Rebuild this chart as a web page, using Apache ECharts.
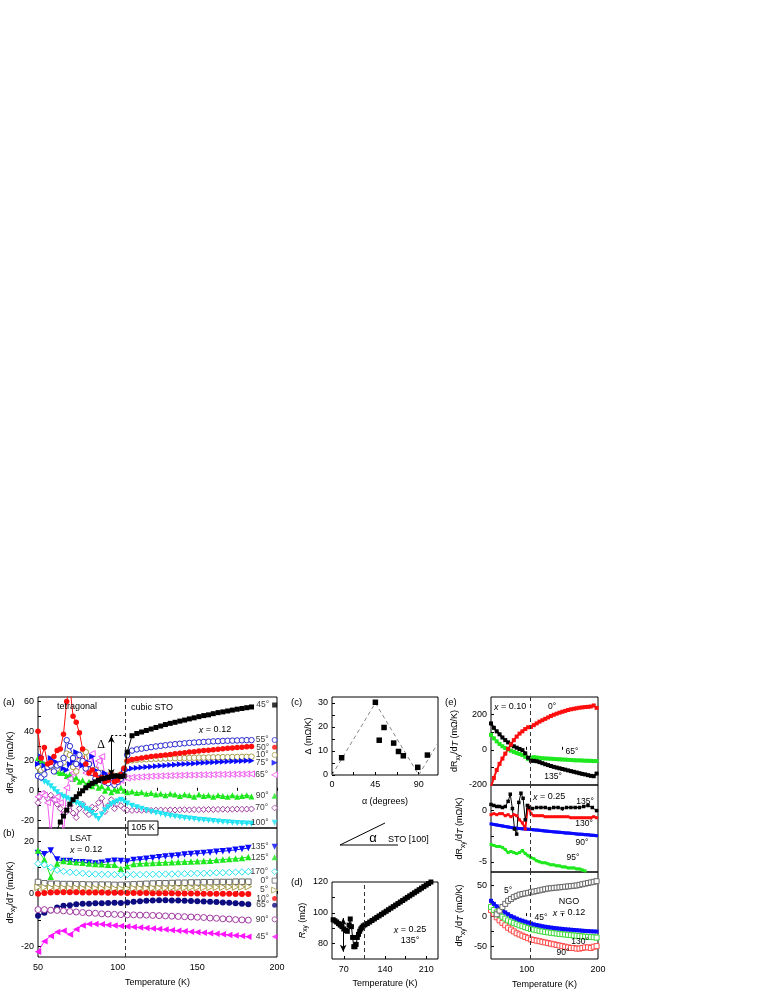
<!DOCTYPE html>
<html>
<head>
<meta charset="utf-8">
<script src="https://cdn.jsdelivr.net/npm/echarts@6/dist/echarts.min.js"></script>
<style>
html, body { margin: 0; padding: 0; background: #fff; }
#chart { width: 765px; height: 990px; }
</style>
</head>
<body>
<div id="chart"></div>
<script>
// ---------- panel (a): STO, x = 0.12 ----------
var tA = [50,52,54,56,58,60,62,64,66,68,70,72,74,76,78,80,82,84,86,88,90,92,94,96,98,100,102,104,
          106,109,112,115,118,121,124,127,130,133,136,139,142,145,148,151,154,157,160,163,166,169,172,175,178,181,184];
var a45 = [-45,-42,-40,-38,-35,-31,-26,-21,-17,-13,-9,-6,-4,-2,0,2,3.5,5,6,7,8,8.5,9,9.5,10,10,9.5,10,
           26,37,38.5,39.5,40.5,41.5,42.5,43.5,44.5,45.3,46,46.8,47.5,48.3,49,49.8,50.5,51,51.8,52.5,53,53.6,54.2,54.8,55.3,55.8,56.3];
var a55 = [10,9,11,16,17,13,17,18,22,34,30,22,18,24,20,15,18,12,8,12,7,6,5,9,4,6,8,14,
           24,27,27.8,28.3,28.8,29.3,29.8,30.2,30.6,31,31.3,31.6,31.9,32.2,32.4,32.6,32.8,33,33.2,33.3,33.5,33.6,33.7,33.8,33.9,34,34];
var a50 = [40,22,29,18,19,23,27,28,38,60,70,50,46,39,28,18,12,14,11,8,9,6,7,11,6,7,11,15,
           20,21,21.5,22,22.5,23,23.3,23.7,24,24.3,24.8,25.2,25.5,26,26.3,26.7,27,27.3,27.6,27.9,28.2,28.5,28.7,29,29.2,29.5,29.7];
var a10 = [16,14,15,17,16,14,15,17,19,25,24,16,13,20,25,26,18,12,14,10,12,9,8,12,9,10,11,15,
           20,20.5,20.8,21,21.2,21.4,21.5,21.6,21.7,21.8,21.9,22,22,22.1,22.2,22.3,22.3,22.4,22.5,22.5,22.6,22.6,22.7,22.7,22.8,22.8,22.9];
var a75 = [18,23,17,15,22,20,19,17,15,14,18,20,26,18,17,16,19,23,14,11,9,12,10,8,9,8,9,13,
           14,15,15.3,15.6,15.9,16.2,16.5,16.8,17,17.3,17.5,17.8,18,18.2,18.4,18.6,18.8,19,19.2,19.3,19.5,19.6,19.8,19.9,20,20.1,20.2];
var a65 = [-4,-2,-3,-8,-30,-6,-4,-8,-30,2,8,12,16,22,18,12,20,25,14,20,23,10,7,5,8,6,7,9,
           8.5,9,9.2,9.4,9.6,9.8,9.9,10,10.1,10.2,10.3,10.4,10.5,10.5,10.6,10.7,10.8,10.8,10.9,11,11,11.1,11.1,11.2,11.2,11.3,11.3];
var a90 = [22,20,18,16,18,15,13,12,12,10,11,8,9,6,7,4,6,3,5,2,3,0,2,-1,1,0,2,0,
           -1,-0.5,-1.5,-1,-2,-1.5,-2.5,-2,-3,-2,-2.5,-3.5,-2.5,-3,-4,-2.5,-3.5,-3,-4,-3,-3.5,-4,-3,-4,-3.5,-3,-3.8];
var a70 = [-8,-3,-2,-5,-3,-6,-9,-12,-16,-14,-10,-15,-18,-12,-9,-14,-16,-11,-12,-8,-5,-14,-10,-6,-12,-9,-10,-12,
           -13,-13.2,-13,-13.1,-13,-13.2,-13,-12.9,-13,-12.8,-12.9,-12.8,-12.7,-12.8,-12.6,-12.7,-12.6,-12.5,-12.6,-12.5,-12.4,-12.5,-12.4,-12.3,-12.4,-12.3,-12.2];
var a100 = [10,8,6,5,3,1,-1,-3,-4,-5,-6,-7,-8,-9,-10,-12,-13,-15,-17,-19,-16,-13,-11,-9,-8,-7,-6,-7,
            -8.5,-10,-11,-12,-13,-14,-14.8,-15.5,-16.2,-16.8,-17.3,-17.8,-18.2,-18.6,-19,-19.4,-19.7,-20,-20.3,-20.6,-20.9,-21.1,-21.4,-21.6,-21.8,-22,-22.2];
var tagX = 198.5;
var tagNamesA = ['45°','55°','50°','10°','75°','65°','90°','70°','100°'];
var tagYA = [57.6,34.1,29.2,24.1,18.9,10.7,-3.4,-11.5,-21.4];

// ---------- panel (b): LSAT, x = 0.12 ----------
var tB = [50,54,58,62,66,70,74,78,82,86,90,94,98,102,106,110,114,118,122,126,130,134,138,142,146,150,154,158,162,166,170,174,178,182];
var b135 = [15.5,15,16.5,13,12.5,12.5,12,12,11.8,11.5,11.8,12.3,12.6,12.5,12.3,12.8,13,13.3,13.6,13.9,14.2,14.4,14.6,14.9,15.1,15.3,15.5,15.7,16,16.2,16.4,16.7,17,17.4];
var b125 = [16.5,13,6.5,11.5,12.5,12.2,12,11.8,11.5,11.3,11.2,11,11,9.5,10.5,11.3,11.5,11.6,11.7,11.8,11.9,12,12.1,12.2,12.3,12.4,12.5,12.6,12.8,13,13.2,13.4,13.6,14];
var b170 = [11.5,11,10,9,8.5,8.2,8,7.8,7.6,7.5,7.4,7.4,7.3,7.3,7.3,7.3,7.3,7.4,7.4,7.4,7.5,7.5,7.6,7.6,7.7,7.8,7.8,7.9,8,8,8.1,8.2,8.3,8.4];
var b0 = [4.5,4,3.8,3.8,3.7,3.7,3.6,3.6,3.5,3.5,3.5,3.5,3.4,3.4,3.5,3.6,3.7,3.8,3.9,4,4,4.1,4.2,4.2,4.3,4.3,4.4,4.4,4.5,4.5,4.5,4.6,4.6,4.6];
var b5 = [2.5,2.4,2.3,2.3,2.2,2.2,2.2,2.1,2.1,2.1,2.1,2,2,2,2,2.1,2.1,2.1,2.2,2.2,2.2,2.3,2.3,2.3,2.4,2.4,2.4,2.5,2.5,2.5,2.6,2.6,2.6,2.7];
var b10 = [0,0.3,0.5,0.6,0.6,0.6,0.6,0.5,0.5,0.5,0.5,0.4,0.4,0.4,0.3,0.3,0.3,0.3,0.2,0.2,0.2,0.2,0.1,0.1,0.1,0.1,0,0,0,0,0,-0.1,-0.1,-0.1];
var b65 = [-8.3,-7.2,-6.3,-5.2,-4.5,-4.3,-4,-3.8,-3.8,-3.6,-3.6,-3.5,-3.4,-3.5,-3.3,-3,-2.8,-2.6,-2.5,-2.4,-2.4,-2.5,-2.5,-2.6,-2.7,-2.8,-2.9,-3,-3.1,-3.3,-3.4,-3.6,-3.8,-4];
var b90 = [-6,-6,-6.2,-6.3,-6.5,-6.7,-6.9,-7.1,-7.3,-7.4,-7.6,-7.7,-7.8,-7.9,-8,-8,-8.1,-8.1,-8.2,-8.3,-8.4,-8.5,-8.6,-8.7,-8.8,-8.9,-9,-9.2,-9.3,-9.5,-9.6,-9.8,-9.9,-10];
var b45 = [-22,-18,-16,-14.5,-14,-15.5,-13.5,-12,-11.5,-11.5,-11.6,-11.8,-12,-12.2,-12.4,-12.6,-12.8,-13,-13.2,-13.4,-13.6,-13.8,-14,-14.2,-14.4,-14.6,-14.8,-15,-15.2,-15.4,-15.6,-15.8,-16,-16.3];
var tagNamesB = ['135°','125°','170°','0°','5°','10°','65°','90°','45°'];
var tagYB = [17.9,13.9,8.4,5,1.4,-1.8,-4.3,-9.7,-16.3];

// ---------- panel (c): step height vs angle ----------
var cAlpha = [10,45,49,54,64,69,74,89,99];
var cDelta = [7.2,30.3,14.5,19.8,13.3,9.8,8,3.2,8.3];
var cGuideA = [0,45,90,110];
var cGuideD = [0,30,0,13.3];

// ---------- panel (d): Rxy, x = 0.25, 135° ----------
var dT = [52,55,58,61,64,67,70,73,76,79,81,83,85,87,89,91,93,95,97,99,101,103,
          106,110,114,118,122,126,130,134,138,142,146,150,154,158,162,166,170,174,178,182,186,190,194,198,202,206,210,214,218,222];
var dR = [95.5,94.8,94,93,92,91,89.5,88.5,88,92,96,91,84,78,78,79.5,84,86,88,89.5,90.5,91.5,
          92.2,93,94,95,96,97,98,99,100,101,102,103,104,105,106,107,108,109,110,111,112,113,114,115,116,117,118,119,120,121];

// ---------- panel (e) ----------
var tE = [50,54,58,62,66,70,74,78,82,86,90,94,98,102,106,110,114,118,122,126,130,134,138,142,146,150,154,158,162,166,170,174,178,182,186,190,194,198];
// x = 0.10
var e1Red = [-210,-160,-115,-80,-50,-22,5,30,55,75,92,105,118,128,130,140,150,160,168,176,184,192,199,205,211,216,221,226,230,233,236,239,241,243,244,246,252,238];
var e1Green = [85,65,48,33,20,10,2,-5,-12,-18,-24,-30,-40,-52,-45,-42,-44,-46,-48,-49,-50,-51,-52,-53,-54,-55,-56,-57,-58,-59,-60,-60,-61,-62,-62,-63,-64,-64];
var e1Black = [150,125,105,88,70,55,42,30,20,12,5,-2,-20,-45,-62,-63,-65,-70,-76,-82,-87,-92,-97,-101,-105,-109,-113,-117,-121,-125,-129,-133,-137,-140,-144,-148,-150,-135];
// x = 0.25
var tEb = [50,54,58,62,66,70,74,77,80,83,86,89,92,95,98,101,104,108,114,120,126,132,138,144,150,156,162,168,174,180,186,192,198];
var e2Black = [0.6,0.5,0.4,0.4,0.3,0.4,0.9,1.6,0.2,-1.8,-2.3,0.8,1.7,1.2,-0.9,0.5,0.3,0.2,0.3,0.3,0.3,0.2,0.3,0.3,0.2,0.3,0.3,0.3,0.3,0.4,0.5,0.3,0.0];
var e2Red = [-0.4,-0.3,-0.4,-0.3,-0.3,-0.5,-0.4,-0.6,-0.4,-0.5,-0.9,-1.2,-1.8,0.5,-0.3,-0.5,-0.5,-0.5,-0.5,-0.6,-0.6,-0.6,-0.6,-0.6,-0.6,-0.6,-0.6,-0.6,-0.7,-0.7,-0.7,-0.7,-0.7,-0.7,-0.7,-0.7,-0.6,-0.7];
var e2Blue = [-1.3,-1.35,-1.4,-1.45,-1.5,-1.55,-1.6,-1.65,-1.7,-1.72,-1.75,-1.78,-1.8,-1.82,-1.85,-1.88,-1.9,-1.93,-1.96,-1.99,-2.02,-2.05,-2.08,-2.1,-2.12,-2.15,-2.18,-2.2,-2.22,-2.25,-2.28,-2.3,-2.32,-2.35,-2.37,-2.4,-2.42,-2.45];
var e2Green = [-3.3,-3.4,-3.5,-3.5,-3.6,-3.8,-4.1,-4.0,-4.1,-4.2,-4.1,-3.9,-4.2,-4.4,-4.6,-4.7,-4.9,-5.0,-5.1,-5.1,-5.2,-5.3,-5.3,-5.4,-5.4,-5.5,-5.5,-5.6,-5.6,-5.6,-5.7,-5.7,-5.8,-5.9,null,null,null,null];
// NGO, x = 0.12
var e3Gray = [null,null,3,9,15,20,25,28,31,33,35,36,37,38,39,40,41,42,43,44,45,45.5,46,46.5,47,47.5,48,48.5,49,49.5,50,51,52,53,54,55,56,57];
var e3Blue = [25,20,16,12,9,6,3,0,-2,-4,-6,-7.5,-9,-10.5,-12,-13.5,-14.5,-15.5,-16.5,-17.3,-18,-18.7,-19.3,-19.9,-20.4,-20.9,-21.4,-21.8,-22.2,-22.6,-23,-23.4,-23.8,-24.2,-24.5,-24.8,-25,-25.2];
var e3Green = [15,10,6,2,-1,-4,-7,-9,-11,-13,-15,-16.5,-18,-19.5,-21,-22,-23,-24,-25,-25.8,-26.5,-27.2,-27.8,-28.4,-29,-29.5,-30,-30.5,-31,-31.5,-32,-32.5,-33,-33.5,-34,-34,-34.5,-35];
var e3Red = [10,4,-2,-7,-11,-15,-19,-22,-25,-28,-30,-32,-34,-36,-38,-39,-40,-41,-42,-43,-44,-45,-46,-47,-48,-49,-50,-51,-52,-52,-53,-53,-52,-51,-51,-52,-50,-49];

var TC = 105;   // cubic-tetragonal transition

var FONT = '"Liberation Sans", Arial, Helvetica, sans-serif';
var chart = echarts.init(document.getElementById('chart'));

function pts(xs, ys) {
  var out = [];
  for (var i = 0; i < xs.length; i++) {
    if (ys[i] !== null && ys[i] !== undefined) out.push([xs[i], ys[i]]);
  }
  return out;
}

// one data series (line + markers)
function ln(gi, xs, ys, c, sym, o) {
  o = o || {};
  return {
    type: 'line', xAxisIndex: gi, yAxisIndex: gi, data: pts(xs, ys),
    symbol: sym, symbolSize: o.size || 5, symbolRotate: o.rot || 0,
    showSymbol: sym !== 'none', showAllSymbol: true,
    lineStyle: { color: c, width: o.lw == null ? 1 : o.lw, type: o.dash || 'solid' },
    itemStyle: { color: o.open ? '#fff' : c, borderColor: c, borderWidth: o.open ? 1 : 0 },
    z: o.z || 3, silent: true, animation: false, clip: true
  };
}

// marker + angle label at the right side of panels (a), (b)
function tag(gi, y, text, c, sym, o) {
  o = o || {};
  return {
    type: 'scatter', xAxisIndex: gi, yAxisIndex: gi, data: [[tagX, y]],
    symbol: sym, symbolSize: o.size || 5, symbolRotate: o.rot || 0,
    itemStyle: { color: o.open ? '#fff' : c, borderColor: c, borderWidth: o.open ? 1 : 0 },
    label: { show: true, position: 'left', distance: 3, formatter: text, fontSize: 8.5, fontFamily: FONT, color: '#000' },
    z: 5, silent: true, animation: false
  };
}

function helper(gi, ml) {
  return { type: 'line', xAxisIndex: gi, yAxisIndex: gi, data: [], markLine: ml, silent: true, animation: false, z: 2 };
}
function vline() {
  return { silent: true, symbol: 'none', animation: false, label: { show: false },
           lineStyle: { type: [4, 3], color: '#333', width: 1 }, data: [{ xAxis: TC }] };
}
function arrow(x, y1, y2) {
  return { silent: true, symbol: ['arrow', 'arrow'], symbolSize: [5, 7], animation: false, label: { show: false },
           lineStyle: { type: 'solid', color: '#000', width: 1 }, data: [[{ coord: [x, y1] }, { coord: [x, y2] }]] };
}

var nameStyle = {
  fontSize: 9, fontFamily: FONT, color: '#000',
  rich: {
    s: { fontSize: 6.5, fontFamily: FONT, padding: [7, 0, 0, 0] },
    i: { fontSize: 9, fontFamily: FONT, fontStyle: 'italic' }
  }
};
var yTitle = 'dR{s|xy}/d{i|T} (mΩ/K)';

function axis(gi, min, max, o) {
  return {
    type: 'value', gridIndex: gi, min: min, max: max,
    axisLine: { show: false }, splitLine: { show: false },
    axisTick: { show: true, inside: true, length: 3, customValues: o.ticks, lineStyle: { color: '#000', width: 1 } },
    axisLabel: { show: !!o.labels, customValues: o.labels || [], fontSize: 9, fontFamily: FONT, color: '#000', margin: o.margin || 4 },
    name: o.name || '', nameLocation: 'middle', nameGap: o.gap || 20, nameTextStyle: nameStyle
  };
}

var gridBox = { show: true, borderColor: '#000', borderWidth: 1, backgroundColor: 'transparent' };
var grids = [
  Object.assign({ left: 38,  top: 697, width: 239, height: 131 }, gridBox),  // a
  Object.assign({ left: 38,  top: 828, width: 239, height: 129 }, gridBox),  // b
  Object.assign({ left: 332, top: 697, width: 106, height: 78 }, gridBox),   // c
  Object.assign({ left: 332, top: 882, width: 106, height: 77 }, gridBox),   // d
  Object.assign({ left: 491, top: 697, width: 107, height: 88 }, gridBox),   // e top
  Object.assign({ left: 491, top: 785, width: 107, height: 87 }, gridBox),   // e middle
  Object.assign({ left: 491, top: 872, width: 107, height: 87 }, gridBox)    // e bottom
];

var tT = [50,75,100,125,150,175,200];
var xAxes = [
  axis(0, 50, 200, { ticks: tT }),
  axis(1, 50, 200, { ticks: tT, labels: [50,100,150,200], name: 'Temperature (K)', gap: 21, margin: 6 }),
  axis(2, 0, 110, { ticks: [0,22.5,45,67.5,90], labels: [0,45,90], name: 'α (degrees)', gap: 22, margin: 5 }),
  axis(3, 50, 230, { ticks: [70,105,140,175,210], labels: [70,140,210], name: 'Temperature (K)', gap: 20, margin: 6 }),
  axis(4, 50, 200, { ticks: [100,150] }),
  axis(5, 50, 200, { ticks: [100,150] }),
  axis(6, 50, 200, { ticks: [100,150], labels: [100,200], name: 'Temperature (K)', gap: 21, margin: 6 })
];
var yAxes = [
  axis(0, -25, 63, { ticks: [-20,-10,0,10,20,30,40,50,60], labels: [-20,0,20,40,60], name: yTitle, gap: 18 }),
  axis(1, -24, 25, { ticks: [-20,-10,0,10,20], labels: [-20,0,20], name: yTitle, gap: 18 }),
  axis(2, 0, 32.5, { ticks: [0,5,10,15,20,25,30], labels: [0,10,20,30], name: 'Δ (mΩ/K)', gap: 19 }),
  axis(3, 70, 120, { ticks: [80,90,100,110], labels: [80,100,120], name: '{i|R}{s|xy} (mΩ)', gap: 21 }),
  axis(4, -200, 300, { ticks: [-100,0,100,200], labels: [-200,0,200], name: yTitle, gap: 29 }),
  axis(5, -6, 2.5, { ticks: [-5,-2.5,0], labels: [-5,0], name: yTitle, gap: 24 }),
  axis(6, -70, 72, { ticks: [-50,-25,0,25,50], labels: [-50,0,50], name: yTitle, gap: 24 })
];

var C = {
  black: '#000000', blueO: '#2a2ad0', red: '#ff0d0d', olive: '#a89c48', blue: '#0a0aff',
  pink: '#f25cf2', green: '#1fe81f', purple: '#a03aa0', cyan: '#22e4f2',
  gray: '#666666', navy: '#0c0c80', magenta: '#ff14ff'
};

var series = [
  // (a)
  ln(0, tA, a70, C.purple, 'diamond', { open: true, size: 6 }),
  ln(0, tA, a100, C.cyan, 'triangle', { rot: 180, size: 6 }),
  ln(0, tA, a90, C.green, 'triangle', { size: 6 }),
  ln(0, tA, a65, C.pink, 'triangle', { rot: 90, open: true, size: 6 }),
  ln(0, tA, a10, C.olive, 'circle', { open: true, size: 5.5 }),
  ln(0, tA, a75, C.blue, 'triangle', { rot: -90, size: 6 }),
  ln(0, tA, a55, C.blueO, 'circle', { open: true, size: 5.5 }),
  ln(0, tA, a50, C.red, 'circle', { size: 5.5 }),
  ln(0, tA, a45, C.black, 'rect', { size: 5, z: 4 }),
  helper(0, vline()),
  helper(0, arrow(96, 10, 37)),
  helper(0, { silent: true, symbol: 'none', animation: false, label: { show: false },
              lineStyle: { type: [2, 2], color: '#000', width: 1 }, data: [[{ coord: [96, 37] }, { coord: [TC, 37] }]] }),
  tag(0, tagYA[0], tagNamesA[0], C.black, 'rect', { size: 5 }),
  tag(0, tagYA[1], tagNamesA[1], C.blueO, 'circle', { open: true }),
  tag(0, tagYA[2], tagNamesA[2], C.red, 'circle'),
  tag(0, tagYA[3], tagNamesA[3], C.olive, 'circle', { open: true }),
  tag(0, tagYA[4], tagNamesA[4], C.blue, 'triangle', { rot: -90, size: 6 }),
  tag(0, tagYA[5], tagNamesA[5], C.pink, 'triangle', { rot: 90, open: true, size: 6 }),
  tag(0, tagYA[6], tagNamesA[6], C.green, 'triangle', { size: 6 }),
  tag(0, tagYA[7], tagNamesA[7], C.purple, 'diamond', { open: true, size: 6 }),
  tag(0, tagYA[8], tagNamesA[8], C.cyan, 'triangle', { rot: 180, size: 6 }),

  // (b)
  ln(1, tB, b135, C.blue, 'triangle', { rot: 180, size: 6.5 }),
  ln(1, tB, b125, C.green, 'triangle', { size: 6.5 }),
  ln(1, tB, b170, C.cyan, 'diamond', { open: true, size: 6.5 }),
  ln(1, tB, b0, C.gray, 'rect', { open: true, size: 5.5 }),
  ln(1, tB, b5, C.olive, 'triangle', { rot: -90, open: true, size: 6.5 }),
  ln(1, tB, b10, C.red, 'circle', { size: 6 }),
  ln(1, tB, b65, C.navy, 'circle', { size: 6 }),
  ln(1, tB, b90, C.purple, 'circle', { open: true, size: 6 }),
  ln(1, tB, b45, C.magenta, 'triangle', { rot: 90, size: 6.5 }),
  helper(1, vline()),
  tag(1, tagYB[0], tagNamesB[0], C.blue, 'triangle', { rot: 180, size: 6 }),
  tag(1, tagYB[1], tagNamesB[1], C.green, 'triangle', { size: 6 }),
  tag(1, tagYB[2], tagNamesB[2], C.cyan, 'diamond', { open: true, size: 6 }),
  tag(1, tagYB[3], tagNamesB[3], C.gray, 'rect', { open: true }),
  tag(1, tagYB[4], tagNamesB[4], C.olive, 'triangle', { rot: -90, open: true, size: 6 }),
  tag(1, tagYB[5], tagNamesB[5], C.red, 'circle'),
  tag(1, tagYB[6], tagNamesB[6], C.navy, 'circle'),
  tag(1, tagYB[7], tagNamesB[7], C.purple, 'circle', { open: true }),
  tag(1, tagYB[8], tagNamesB[8], C.magenta, 'triangle', { rot: 90, size: 6 }),

  // (c)
  ln(2, cGuideA, cGuideD, '#888', 'none', { dash: [4, 3] }),
  ln(2, cAlpha, cDelta, C.black, 'rect', { lw: 0, size: 5.5 }),

  // (d)
  ln(3, dT, dR, C.black, 'rect', { size: 5 }),
  helper(3, vline()),
  helper(3, arrow(69, 96.6, 74.7)),

  // (e) top: x = 0.10
  ln(4, tE, e1Green, C.green, 'rect', { size: 4, lw: 2 }),
  ln(4, tE, e1Black, C.black, 'rect', { size: 4, lw: 2 }),
  ln(4, tE, e1Red, C.red, 'rect', { size: 4, lw: 2 }),
  helper(4, vline()),
  // (e) middle: x = 0.25
  ln(5, tE, e2Green, C.green, 'rect', { size: 3, lw: 2.5 }),
  ln(5, tE, e2Blue, C.blue, 'rect', { size: 3, lw: 3 }),
  ln(5, tE, e2Red, C.red, 'rect', { size: 3, lw: 2 }),
  ln(5, tEb, e2Black, C.black, 'rect', { size: 3.5, lw: 1 }),
  helper(5, vline()),
  // (e) bottom: NGO
  ln(6, tE, e3Red, '#ff4646', 'rect', { open: true, size: 5 }),
  ln(6, tE, e3Green, '#3ad83a', 'rect', { open: true, size: 5 }),
  ln(6, tE, e3Blue, C.blue, 'rect', { size: 4, lw: 3 }),
  ln(6, tE, e3Gray, C.gray, 'rect', { open: true, size: 5 }),
  helper(6, vline())
];

// ---------- text annotations ----------
function txt(x, y, s, o) {
  o = o || {};
  var fs = o.size || 9;
  return {
    type: 'text', x: x, y: y, z: 100, silent: true,
    style: {
      text: s, fill: '#000', fontSize: fs, fontFamily: o.family || FONT,
      align: o.align || 'center', verticalAlign: 'middle',
      textAlign: o.align || 'center', textVerticalAlign: 'middle',
      rich: { i: { fontSize: fs, fontFamily: FONT, fontStyle: 'italic' } }
    }
  };
}
function seg(x1, y1, x2, y2) {
  return { type: 'line', z: 100, silent: true, shape: { x1: x1, y1: y1, x2: x2, y2: y2 }, style: { stroke: '#000', lineWidth: 1 } };
}

var graphics = [
  txt(3, 702, '(a)', { align: 'left', size: 9.5 }),
  txt(3, 833, '(b)', { align: 'left', size: 9.5 }),
  txt(291, 702, '(c)', { align: 'left', size: 9.5 }),
  txt(291, 882, '(d)', { align: 'left', size: 9.5 }),
  txt(445, 702, '(e)', { align: 'left', size: 9.5 }),

  txt(77, 707, 'tetragonal'),
  txt(152, 708, 'cubic STO'),
  txt(215, 730, '{i|x} = 0.12'),
  txt(101, 745, 'Δ', { size: 12, family: '"Liberation Serif", "Times New Roman", serif' }),
  { type: 'rect', z: 99, silent: true, shape: { x: 128, y: 821, width: 30, height: 14 }, style: { fill: '#fff', stroke: '#000', lineWidth: 1 } },
  txt(143, 828, '105 K'),

  txt(70, 839, 'LSAT', { align: 'left' }),
  txt(70, 850, '{i|x} = 0.12', { align: 'left' }),

  seg(340, 845, 385, 823),
  seg(340, 845, 398, 845),
  txt(373, 838, 'α', { size: 13 }),
  txt(388, 840, 'STO [100]', { align: 'left' }),

  txt(410, 930, '{i|x} = 0.25'),
  txt(410, 941, '135°'),

  txt(494, 707, '{i|x} = 0.10', { align: 'left' }),
  txt(552, 707, '0°', { size: 8.5 }),
  txt(572, 752, '65°', { size: 8.5 }),
  txt(553, 777, '135°', { size: 8.5 }),
  txt(533, 797, '{i|x} = 0.25', { align: 'left' }),
  txt(585, 802, '135°', { size: 8.5 }),
  txt(584, 824, '130°', { size: 8.5 }),
  txt(582, 843, '90°', { size: 8.5 }),
  txt(573, 858, '95°', { size: 8.5 }),
  txt(508, 891, '5°', { size: 8.5 }),
  txt(569, 902, 'NGO'),
  txt(569, 913, '{i|x} = 0.12'),
  txt(541, 918, '45°', { size: 8.5 }),
  txt(580, 942, '130°', { size: 8.5 }),
  txt(563, 953, '90°', { size: 8.5 })
];

chart.setOption({
  backgroundColor: '#fff',
  animation: false,
  textStyle: { fontFamily: FONT },
  grid: grids,
  xAxis: xAxes,
  yAxis: yAxes,
  series: series,
  graphic: graphics
});
</script>
</body>
</html>
